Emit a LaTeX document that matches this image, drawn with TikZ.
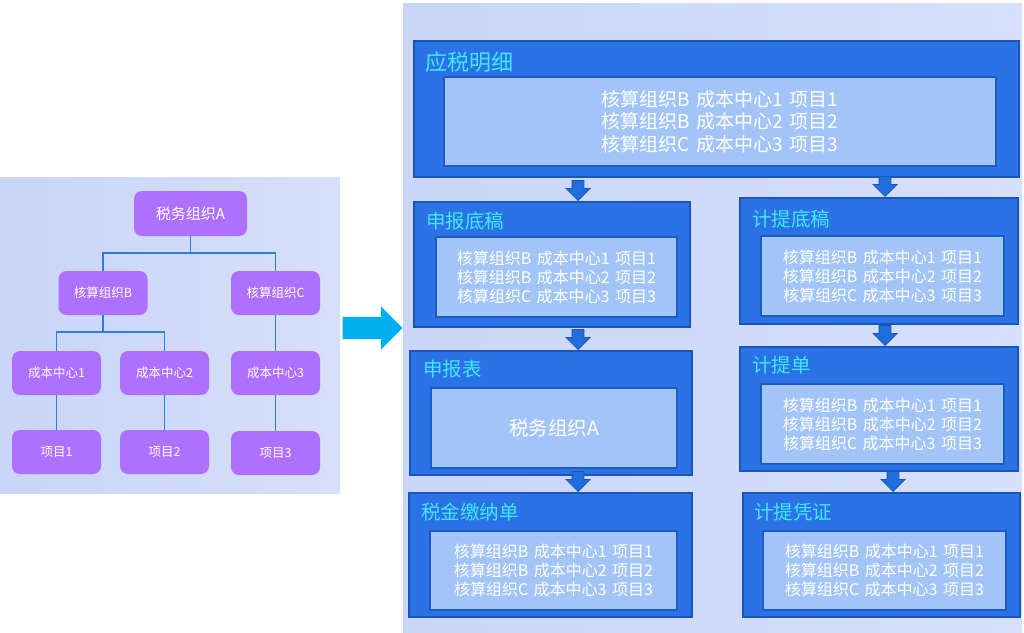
\documentclass[tikz,border=0pt]{standalone}
\usepackage{fontspec}
\setmainfont{Noto Sans CJK SC}
\usetikzlibrary{shapes.arrows}
\definecolor{panelL}{RGB}{202,213,247}
\definecolor{panelR}{RGB}{214,224,250}
\definecolor{orgfill}{RGB}{174,112,255}
\definecolor{linkblue}{RGB}{43,123,224}
\definecolor{bigcyan}{RGB}{0,176,240}
\definecolor{outerfill}{RGB}{43,114,231}
\definecolor{outerline}{RGB}{26,85,184}
\definecolor{innerfill}{RGB}{162,196,247}
\definecolor{innerline}{RGB}{30,91,192}
\definecolor{titlecyan}{RGB}{64,232,246}
\definecolor{downfill}{RGB}{30,111,220}
\newcommand{\orggap}{\hspace{0.34em}}
\newcommand{\orglines}{核算组织B\orggap 成本中心1\orggap 项目1\\核算组织B\orggap 成本中心2\orggap 项目2\\核算组织C\orggap 成本中心3\orggap 项目3}
\tikzset{
  org/.style={rectangle, rounded corners=8pt, fill=orgfill, text=white,
    minimum width=89pt, minimum height=44pt, inner sep=0pt,
    font=\fontsize{12.5}{15}\selectfont},
  link/.style={draw=linkblue, line width=1.5pt},
  outerbox/.style={rectangle, fill=outerfill, draw=outerline, line width=1.5pt, inner sep=0pt},
  innerbox/.style={rectangle, fill=innerfill, draw=innerline, line width=1.5pt,
    text=white, inner sep=0pt, align=center, font=\fontsize{16}{19}\selectfont},
  boxtitle/.style={anchor=west, text=titlecyan, inner sep=0pt,
    font=\fontsize{19.5}{22}\selectfont},
  downarrow/.style={single arrow, shape border rotate=270, fill=downfill,
    draw=outerline, line width=0.8pt, inner sep=5.5pt, minimum height=20pt,
    single arrow head extend=6pt, single arrow head indent=0pt, anchor=tip},
  bigarrow/.style={single arrow, fill=bigcyan, inner sep=11pt, minimum height=60pt,
    single arrow head extend=10.5pt, single arrow head indent=0pt, anchor=tip}
}
\begin{document}
\begin{tikzpicture}[x=1pt, y=-1pt]
  \useasboundingbox (0,0) rectangle (1024,632);
  % panels
  \shade[left color=panelL, right color=panelR] (0,177) rectangle (340,493);
  \shade[left color=panelL, right color=panelR] (403,3) rectangle (1022,632);
  % tree
  \node[org, minimum width=113pt, minimum height=45pt, font=\fontsize{15}{18}\selectfont] (swA) at (190.5,213.5) {税务组织A};
  \node[org] (hsB) at (103,293) {核算组织B};
  \node[org] (hsC) at (275.5,293) {核算组织C};
  \node[org] (cb1) at (56.5,373) {成本中心1};
  \node[org] (cb2) at (164.5,373) {成本中心2};
  \node[org] (cb3) at (275.5,373) {成本中心3};
  \node[org] (xm1) at (56.5,452) {项目1};
  \node[org] (xm2) at (164.5,452) {项目2};
  \node[org] (xm3) at (275.5,453) {项目3};
  \draw[link] (swA.south) -- ++(0,17) -| (hsB.north);
  \draw[link] (swA.south) -- ++(0,17) -| (hsC.north);
  \draw[link] (hsB.south) -- ++(0,17) -| (cb1.north);
  \draw[link] (hsB.south) -- ++(0,17) -| (cb2.north);
  \draw[link] (hsC.south) -- (cb3.north);
  \draw[link] (cb1.south) -- (xm1.north);
  \draw[link] (cb2.south) -- (xm2.north);
  \draw[link] (cb3.south) -- (xm3.north);
  % big arrow
  \node[bigarrow] (go) at (403,328) {};
  % top box
  \node[outerbox, minimum width=605pt, minimum height=136pt] (ysmx) at (716.5,109) {};
  \node[innerbox, minimum width=552pt, minimum height=89pt, font=\fontsize{19}{22.5}\selectfont] (ysmxIn) at (720,121.5) {\orglines};
  \node[boxtitle, font=\fontsize{22}{24}\selectfont] (ysmxT) at (425,62) {应税明细};
  % left column
  \node[outerbox, minimum width=276pt, minimum height=125pt] (sbdg) at (552,264.5) {};
  \node[innerbox, minimum width=241pt, minimum height=80pt] (sbdgIn) at (556.5,277) {\orglines};
  \node[boxtitle] (sbdgT) at (426,221) {申报底稿};
  \node[outerbox, minimum width=282pt, minimum height=124pt] (sbb) at (551,413) {};
  \node[innerbox, minimum width=246pt, minimum height=80pt, font=\fontsize{19.5}{22}\selectfont] (sbbIn) at (554,428) {税务组织A};
  \node[boxtitle] (sbbT) at (423,369) {申报表};
  \node[outerbox, minimum width=283pt, minimum height=124pt] (sjjnd) at (550.5,555) {};
  \node[innerbox, minimum width=247pt, minimum height=79pt] (sjjndIn) at (553.5,570.5) {\orglines};
  \node[boxtitle] (sjjndT) at (421,512) {税金缴纳单};
  % right column
  \node[outerbox, minimum width=278pt, minimum height=126pt] (jtdg) at (879,261) {};
  \node[innerbox, minimum width=243pt, minimum height=80pt] (jtdgIn) at (882.5,276) {\orglines};
  \node[boxtitle] (jtdgT) at (752,219) {计提底稿};
  \node[outerbox, minimum width=278pt, minimum height=124pt] (jtd) at (879,409) {};
  \node[innerbox, minimum width=243pt, minimum height=80pt] (jtdIn) at (882.5,424) {\orglines};
  \node[boxtitle] (jtdT) at (752,365) {计提单};
  \node[outerbox, minimum width=277pt, minimum height=124pt] (jtpz) at (881.5,555) {};
  \node[innerbox, minimum width=243pt, minimum height=79pt] (jtpzIn) at (884.5,570.5) {\orglines};
  \node[boxtitle] (jtpzT) at (754,512) {计提凭证};
  % flow arrows
  \node[downarrow] (d1) at (578,201) {};
  \node[downarrow] (d2) at (885,197) {};
  \node[downarrow] (d3) at (578,350) {};
  \node[downarrow] (d4) at (885,346) {};
  \node[downarrow] (d5) at (578,492) {};
  \node[downarrow] (d6) at (893,492) {};
\end{tikzpicture}
\end{document}
